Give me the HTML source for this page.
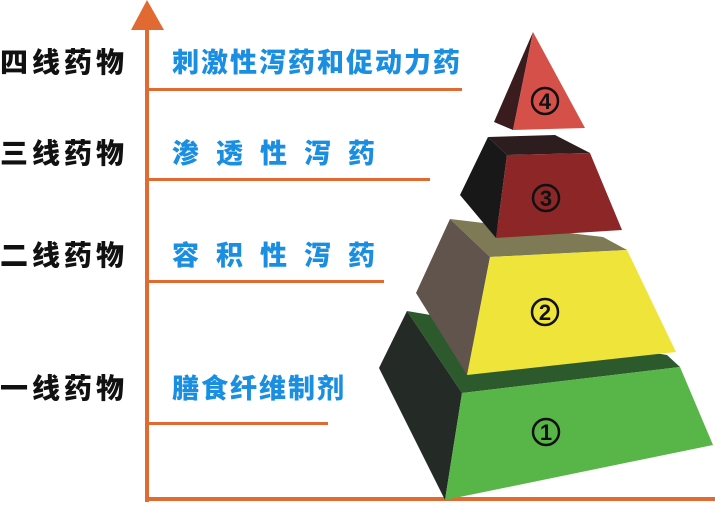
<!DOCTYPE html>
<html><head><meta charset="utf-8"><style>
html,body{margin:0;padding:0;background:#fff;}
body{width:715px;height:505px;position:relative;overflow:hidden;}
.t{position:absolute;font-family:"Liberation Sans","Noto Sans CJK SC",sans-serif;font-weight:900;line-height:30px;white-space:nowrap;}
.k{left:0;color:#111;font-size:28px;letter-spacing:4px;}
.b{left:172px;color:#1a8ee0;font-size:27px;letter-spacing:2px;}
</style></head><body>
<svg width="715" height="505" style="position:absolute;left:0;top:0">
<g fill="#e06a32">
<polygon points="147,0 131,30 164,30"/>
<rect x="145" y="28" width="4" height="474"/>
<rect x="145" y="497" width="570" height="4"/>
<rect x="149" y="88" width="313" height="3"/>
<rect x="149" y="178" width="281" height="3"/>
<rect x="149" y="280" width="235" height="3"/>
<rect x="149" y="422" width="179" height="3"/>
</g>
<polygon points="407,311 667,355 680,367 462,393" fill="#2c5a2c"/>
<polygon points="407,311 462,393 445,500 379,368" fill="#242b26"/>
<polygon points="462,393 680,367 713,445 445,500" fill="#58b548"/>
<polygon points="450,219 603,237 627,250 490,257" fill="#7d7a55"/>
<polygon points="450,219 490,257 467,375 416,293" fill="#61544c"/>
<polygon points="490,257 627,250 676,352 467,375" fill="#efe53a"/>
<polygon points="488,137 555,135 590,153 507,155" fill="#2e1d1f"/>
<polygon points="488,137 507,155 496,238 460,195" fill="#181818"/>
<polygon points="507,155 590,153 622,230 496,238" fill="#8c2627"/>
<polygon points="533,32 513,130 494,122" fill="#3a1c1e"/>
<polygon points="533,32 585,128 513,130" fill="#d6504a"/>
<g fill="none" stroke="#111" stroke-width="2.5">
<circle cx="545" cy="101" r="13"/>
<circle cx="546" cy="198" r="13"/>
<circle cx="545" cy="312" r="13"/>
<circle cx="546" cy="432" r="13"/>
</g>
<g font-family="Liberation Sans,sans-serif" font-size="22" font-weight="bold" text-anchor="middle" fill="#111">
<text x="545" y="109">4</text>
<text x="546" y="206">3</text>
<text x="545" y="320">2</text>
<text x="546" y="440">1</text>
</g>
</svg>
<div class="t k" style="top:48px">四线药物</div>
<div class="t b" style="top:48px">刺激性泻药和促动力药</div>
<div class="t k" style="top:139px">三线药物</div>
<div class="t b" style="top:139px;letter-spacing:17px">渗透性泻药</div>
<div class="t k" style="top:241px">二线药物</div>
<div class="t b" style="top:241px;letter-spacing:17px">容积性泻药</div>
<div class="t k" style="top:374px">一线药物</div>
<div class="t b" style="top:374px">膳食纤维制剂</div>
</body></html>
